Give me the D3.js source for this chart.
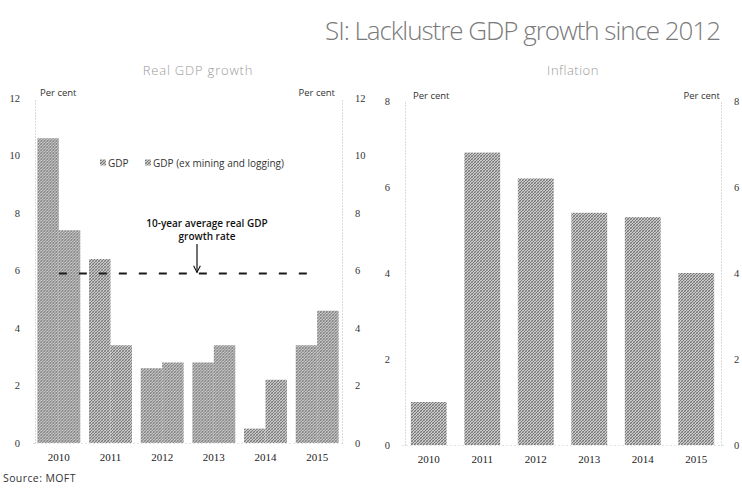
<!DOCTYPE html>
<html>
<head>
<meta charset="utf-8">
<script src="https://cdn.jsdelivr.net/npm/d3@7"></script>
<style>
  html, body { margin: 0; padding: 0; background: #fff; }
  svg { display: block; }
</style>
</head>
<body>
<svg id="chart" width="742" height="491"></svg>
<script>
// Real GDP growth (per cent)
const years = ["2010", "2011", "2012", "2013", "2014", "2015"];
const gdp = [10.6, 6.4, 2.6, 2.8, 0.5, 3.4];
const gdpExMining = [7.4, 3.4, 2.8, 3.4, 2.2, 4.6];
const tenYearAverage = 5.9;
// Inflation (per cent)
const inflation = [1.0, 6.8, 6.2, 5.4, 5.3, 4.0];
// Axis ticks
const gdpTicks = [0, 2, 4, 6, 8, 10, 12];
const inflationTicks = [0, 2, 4, 6, 8];
const seriesNames = ["GDP", "GDP (ex mining and logging)"];

const svg = d3.select("#chart");
const tickFont = "'Liberation Serif', serif";
const textFont = "'Open Sans', 'Noto Sans', sans-serif";

// stippled grey fill for the bars
const defs = svg.append("defs");
const pat = defs.append("pattern")
  .attr("id", "stipple").attr("patternUnits", "userSpaceOnUse")
  .attr("width", 3).attr("height", 3);
pat.append("rect").attr("width", 3).attr("height", 3).attr("fill", "#cbcbcb");
[[0, 0], [2, 1], [1, 2]].forEach(([x, y]) =>
  pat.append("rect").attr("x", x).attr("y", y).attr("width", 1).attr("height", 1).attr("fill", "#777"));
[[1, 0], [0, 2]].forEach(([x, y]) =>
  pat.append("rect").attr("x", x).attr("y", y).attr("width", 1).attr("height", 1).attr("fill", "#a2a2a2"));

// Title
svg.append("text")
  .attr("x", 325).attr("y", 40)
  .attr("font-family", textFont).attr("font-weight", 300)
  .attr("font-size", 26).attr("fill", "#7a7a7a")
  .attr("textLength", 396).attr("lengthAdjust", "spacing")
  .text("SI:  Lacklustre GDP growth since 2012");

svg.append("text").attr("x", 198).attr("y", 75).attr("text-anchor", "middle")
  .attr("font-family", textFont).attr("font-weight", 300).attr("font-size", 13)
  .attr("letter-spacing", 0.8)
  .attr("fill", "#9a9a9a").text("Real GDP growth");
svg.append("text").attr("x", 573).attr("y", 75).attr("text-anchor", "middle")
  .attr("font-family", textFont).attr("font-weight", 300).attr("font-size", 13)
  .attr("letter-spacing", 0.5)
  .attr("fill", "#9a9a9a").text("Inflation");

function styleAxis(g) {
  g.select(".domain").attr("stroke", "#b5b5b5").attr("stroke-dasharray", "1,2");
  g.selectAll("text").attr("font-family", tickFont).attr("font-size", 10.5).attr("fill", "#333");
}

// ---------- Left panel: real GDP growth ----------
const yL = d3.scaleLinear().domain([0, 12]).range([443, 98]);
const xL = d3.scaleBand().domain(years).range([33, 343]).paddingInner(0.17).paddingOuter(0.085);
const xSub = d3.scaleBand().domain([0, 1]).range([0, xL.bandwidth()]);

svg.append("g").attr("transform", "translate(35,0)")
  .call(d3.axisLeft(yL).tickValues(gdpTicks).tickSize(0).tickPadding(15))
  .call(styleAxis);
svg.append("g").attr("transform", "translate(342,0)")
  .call(d3.axisRight(yL).tickValues(gdpTicks).tickSize(0).tickPadding(13))
  .call(styleAxis);
svg.append("g").attr("transform", "translate(0,443)")
  .call(d3.axisBottom(xL).tickSize(0).tickPadding(10).tickSizeOuter(0))
  .call(g => g.select(".domain").attr("stroke", "#c8c8c8").attr("stroke-dasharray", "1,3"))
  .call(g => g.selectAll("text").attr("font-family", tickFont).attr("font-size", 11).attr("fill", "#222"));

const groups = svg.append("g").selectAll("g").data(years).join("g")
  .attr("transform", d => `translate(${xL(d)},0)`);
groups.append("rect")
  .attr("x", xSub(0)).attr("width", xSub.bandwidth())
  .attr("y", (d, i) => yL(gdp[i])).attr("height", (d, i) => yL(0) - yL(gdp[i]))
  .attr("fill", "url(#stipple)");
groups.append("rect")
  .attr("x", xSub(1)).attr("width", xSub.bandwidth())
  .attr("y", (d, i) => yL(gdpExMining[i])).attr("height", (d, i) => yL(0) - yL(gdpExMining[i]))
  .attr("fill", "url(#stipple)");

// dashed ten-year average line, from first to last group centre
const xStart = xL(years[0]) + xL.bandwidth() / 2;
const xEnd = xL(years[years.length - 1]) + xL.bandwidth() / 2;
svg.append("line")
  .attr("x1", xStart).attr("x2", xEnd)
  .attr("y1", yL(tenYearAverage)).attr("y2", yL(tenYearAverage))
  .attr("stroke", "#1a1a1a").attr("stroke-width", 2).attr("stroke-dasharray", "8,12");

// annotation with arrow
const annX = 197;
svg.append("text").attr("x", 207).attr("y", 227).attr("text-anchor", "middle")
  .attr("font-family", "'Open Sans', sans-serif").attr("font-weight", 600).attr("font-size", 10)
  .attr("fill", "#111").text("10-year average real GDP");
svg.append("text").attr("x", 207).attr("y", 240).attr("text-anchor", "middle")
  .attr("font-family", "'Open Sans', sans-serif").attr("font-weight", 600).attr("font-size", 10)
  .attr("fill", "#111").text("growth rate");
defs.append("marker").attr("id", "arrow").attr("viewBox", "0 0 10 10")
  .attr("refX", 9).attr("refY", 5).attr("markerWidth", 7).attr("markerHeight", 7)
  .attr("orient", "auto")
  .append("path").attr("d", "M1,1 L9,5 L1,9").attr("fill", "none").attr("stroke", "#111").attr("stroke-width", 1.3);
svg.append("line").attr("x1", annX).attr("x2", annX).attr("y1", 244).attr("y2", yL(tenYearAverage) - 1)
  .attr("stroke", "#111").attr("stroke-width", 1.2).attr("marker-end", "url(#arrow)");

// legend
const legend = svg.append("g").attr("transform", "translate(100,163)");
const legendX = [0, 45];
seriesNames.forEach((name, i) => {
  const g = legend.append("g").attr("transform", `translate(${legendX[i]},0)`);
  g.append("rect").attr("x", 0).attr("y", -3.5).attr("width", 6).attr("height", 6).attr("fill", "url(#stipple)");
  g.append("text").attr("x", 8).attr("y", 0).attr("dy", "0.35em")
    .attr("font-family", textFont).attr("font-size", 10).attr("fill", "#333").text(name);
});

svg.append("text").attr("x", 40).attr("y", 96).attr("font-family", textFont)
  .attr("font-size", 9.5).attr("fill", "#333").text("Per cent");
svg.append("text").attr("x", 335).attr("y", 96).attr("text-anchor", "end").attr("font-family", textFont)
  .attr("font-size", 9.5).attr("fill", "#333").text("Per cent");

// ---------- Right panel: inflation ----------
const yR = d3.scaleLinear().domain([0, 8]).range([445, 101]);
const xR = d3.scaleBand().domain(years).range([402, 723]).paddingInner(0.33).paddingOuter(0.165);

svg.append("g").attr("transform", "translate(405,0)")
  .call(d3.axisLeft(yR).tickValues(inflationTicks).tickSize(0).tickPadding(15))
  .call(styleAxis);
svg.append("g").attr("transform", "translate(721,0)")
  .call(d3.axisRight(yR).tickValues(inflationTicks).tickSize(0).tickPadding(13))
  .call(styleAxis);
svg.append("g").attr("transform", "translate(0,445)")
  .call(d3.axisBottom(xR).tickSize(0).tickPadding(10).tickSizeOuter(0))
  .call(g => g.select(".domain").attr("stroke", "#c8c8c8").attr("stroke-dasharray", "1,3"))
  .call(g => g.selectAll("text").attr("font-family", tickFont).attr("font-size", 11).attr("fill", "#222"));

svg.append("g").selectAll("rect").data(years).join("rect")
  .attr("x", d => xR(d)).attr("width", xR.bandwidth())
  .attr("y", (d, i) => yR(inflation[i])).attr("height", (d, i) => yR(0) - yR(inflation[i]))
  .attr("fill", "url(#stipple)");

svg.append("text").attr("x", 413).attr("y", 99).attr("font-family", textFont)
  .attr("font-size", 9.5).attr("fill", "#333").text("Per cent");
svg.append("text").attr("x", 720).attr("y", 99).attr("text-anchor", "end").attr("font-family", textFont)
  .attr("font-size", 9.5).attr("fill", "#333").text("Per cent");

// source
svg.append("text").attr("x", 3).attr("y", 482).attr("font-family", textFont)
  .attr("font-size", 10.5).attr("letter-spacing", 0.4).attr("fill", "#333").text("Source:  MOFT");
</script>
</body>
</html>
